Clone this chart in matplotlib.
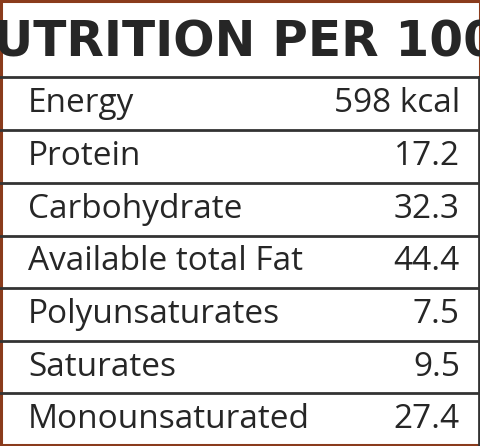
import matplotlib.pyplot as plt
from matplotlib.patches import Rectangle

title = "NUTRITION PER 100g"
nutrients = ["Energy", "Protein", "Carbohydrate", "Available total Fat",
             "Polyunsaturates", "Saturates", "Monounsaturated"]
values = ["598 kcal", "17.2", "32.3", "44.4", "7.5", "9.5", "27.4"]

W, H = 481, 446
fig = plt.figure(figsize=(4.81, 4.46), dpi=100)
ax = fig.add_axes([0, 0, 1, 1])
ax.set_xlim(0, W)
ax.set_ylim(H, 0)
ax.axis("off")

# row separators
lines = [77, 130, 183, 236, 288, 341, 393]
for y in lines:
    ax.plot([0, W], [y, y], color="#333333", lw=2)
ax.plot([W - 2, W - 2], [77, H], color="#333333", lw=2)

# outer border
ax.add_patch(Rectangle((1, 1), W - 2, H - 2.5, fill=False,
                       edgecolor="#8a3b1c", lw=2.2))

ax.text(242, 42, title, ha="center", va="center", fontsize=35,
        fontweight="bold", family=["Liberation Sans Narrow", "DejaVu Sans"],
        color="#262626")

bounds = lines + [445]
for i, (n, v) in enumerate(zip(nutrients, values)):
    yc = (bounds[i] + bounds[i + 1]) / 2
    ax.text(28, yc, n, ha="left", va="center", fontsize=24,
            family="Open Sans", color="#262626")
    ax.text(460, yc, v, ha="right", va="center", fontsize=24,
            family="Open Sans", color="#262626")

fig.savefig("out.png", dpi=100)
